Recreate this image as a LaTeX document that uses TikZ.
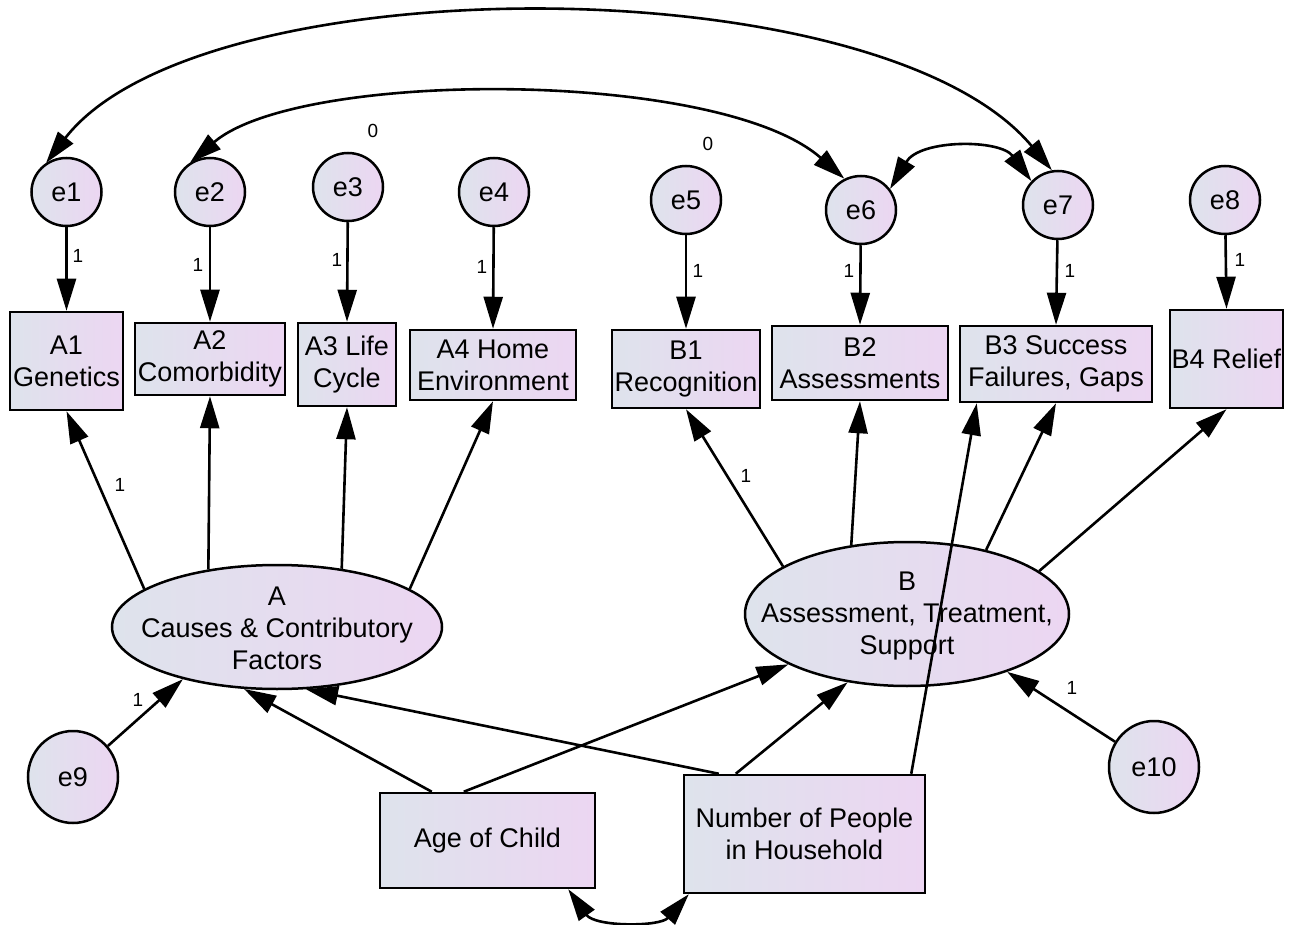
\documentclass[tikz,border=0pt]{standalone}
\usepackage{fontspec}
\setmainfont{Liberation Sans}
\usetikzlibrary{arrows.meta,shapes.geometric}
\definecolor{shadeL}{RGB}{222,227,236}
\definecolor{shadeR}{RGB}{236,214,242}
\begin{document}
\begin{tikzpicture}[x=1pt,y=-1pt,
  every node/.style={font=\fontsize{27}{32}\selectfont},
  obs/.style={draw=black,line width=2.5pt,left color=shadeL,right color=shadeR,
    rectangle,inner sep=1pt,align=center},
  lat/.style={draw=black,line width=2.5pt,left color=shadeL,right color=shadeR,
    ellipse,inner sep=0pt},
  err/.style={lat,minimum width=70,minimum height=68},
  bigerr/.style={lat,minimum width=90,minimum height=92},
  tip/.tip={Triangle[length=32pt,width=19pt]},
  path/.style={line width=2.6pt,-tip},
  cov/.style={line width=2.6pt,tip-tip},
  wt/.style={font=\fontsize{19}{22}\selectfont,inner sep=0pt}]
\useasboundingbox (0,0) rectangle (1294,925);

% observed indicators
\node[obs,minimum width=113,minimum height=98] (A1) at (66.5,361) {A1\\Genetics};
\node[obs,minimum width=150,minimum height=72] (A2) at (210,359) {A2\\Comorbidity};
\node[obs,minimum width=98,minimum height=83] (A3) at (347,364.5) {A3 Life\\Cycle};
\node[obs,minimum width=166,minimum height=70] (A4) at (493,365) {A4 Home\\Environment};
\node[obs,minimum width=148,minimum height=78] (B1) at (686,369) {B1\\Recognition};
\node[obs,minimum width=176,minimum height=74] (B2) at (860,363) {B2\\Assessments};
\node[obs,minimum width=192,minimum height=76] (B3) at (1056,364) {B3 Success\\Failures, Gaps};
\node[obs,minimum width=113,minimum height=98] (B4) at (1226.5,359) {B4 Relief};

% exogenous observed variables
\node[obs,minimum width=215,minimum height=95] (Age) at (487.5,840.5) {Age of Child};
\node[obs,minimum width=241,minimum height=118] (Num) at (804.5,834) {Number of People\\in Household};

% latent factors
\node[lat,minimum width=330,minimum height=124] (A) at (277,627) {};
\node[align=center] (Atext) at (277,628) {A\\Causes \& Contributory\\Factors};
\node[lat,minimum width=324,minimum height=144] (B) at (907,614) {};
\node[align=center] (Btext) at (907,616) {B\\Assessment, Treatment,\\Support};

% error terms
\node[err] (e1) at (66.5,192) {e1};
\node[err] (e2) at (210,192) {e2};
\node[err] (e3) at (348,187) {e3};
\node[err] (e4) at (494,192) {e4};
\node[err] (e5) at (686,200) {e5};
\node[err] (e6) at (861,210) {e6};
\node[err] (e7) at (1058,205) {e7};
\node[err] (e8) at (1225,200) {e8};
\node[bigerr] (e9) at (73,777) {e9};
\node[bigerr] (e10) at (1154,767) {e10};

% error paths
\foreach \e/\o in {e1/A1,e2/A2,e3/A3,e4/A4,e5/B1,e6/B2,e7/B3,e8/B4}
  \draw[path] (\e) -- (\o.north);

% loadings
\draw[path] (A.164) -- (A1.south);
\draw[path] (A.140) -- (A2.south);
\draw[path] (A.42) -- (A3.south);
\draw[path] (A.16) -- (A4.south);
\draw[path] (B.159) -- (B1.south);
\draw[path] (B.129) -- (B2.south);
\draw[path] (B.39) -- (B3.south);
\draw[path] (B.18) -- (B4.south);

% regressions
\draw[path] ([xshift=53pt]Age.north west) -- (A.242);
\draw[path] ([xshift=85pt]Age.north west) -- (B.203);
\draw[path] ([xshift=36pt]Num.north west) -- (A.295);
\draw[path] ([xshift=53pt]Num.north west) -- (B.229);
\draw[path] ([xshift=-15pt]Num.north east) -- ([xshift=18pt]B3.south west);
\draw[path] (e9) -- (A.209);
\draw[path] (e10) -- (B.330);

% covariances
\draw[cov] (e1.125) .. controls (200,-36) and (880,-36) .. (e7.100);
\draw[cov] (e2.124) .. controls (300,69) and (720,69) .. (e6.118);
\draw[cov] (e6.36) .. controls (920,139) and (1000,139) .. (e7.138);
\draw[cov] ([xshift=-28pt]Age.south east) .. controls (595,927) and (660,927) .. ([xshift=6pt]Num.south west);

% weights
\node[wt] (w1) at (78,256) {1};
\node[wt] (w2) at (198,265) {1};
\node[wt] (w3) at (337,260) {1};
\node[wt] (w4) at (482,267) {1};
\node[wt] (w5) at (698,271) {1};
\node[wt] (w6) at (849,271) {1};
\node[wt] (w7) at (1070,271) {1};
\node[wt] (w8) at (1240,260) {1};
\node[wt] (wA) at (120,485) {1};
\node[wt] (wB) at (746,476) {1};
\node[wt] (w9) at (138,700) {1};
\node[wt] (w10) at (1072,688) {1};
\node[wt] (z1) at (373,131) {0};
\node[wt] (z2) at (708,144) {0};
\end{tikzpicture}
\end{document}
